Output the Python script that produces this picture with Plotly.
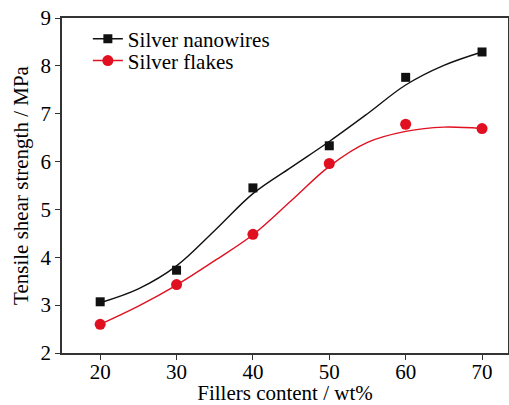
import plotly.graph_objects as go

# Measured data points
filler = [20, 30, 40, 50, 60, 70]
nanowires = [3.07, 3.73, 5.45, 6.33, 7.76, 8.29]
flakes = [2.60, 3.43, 4.48, 5.96, 6.78, 6.69]

# Smoothed fit curves
fit_x = [20, 25, 30, 35, 40, 45, 50, 55, 60, 65, 70]
nanowires_fit = [3.05, 3.34, 3.82, 4.56, 5.33, 5.88, 6.42, 7.00, 7.60, 8.01, 8.29]
flakes_fit = [2.60, 2.98, 3.42, 3.93, 4.47, 5.18, 5.90, 6.40, 6.63, 6.72, 6.69]

x_ticks = [20, 30, 40, 50, 60, 70]
y_ticks = [2, 3, 4, 5, 6, 7, 8, 9]

BLACK = "#111111"
RED = "#e01020"
FONT = "Liberation Serif"

fig = go.Figure()

# fit curves
fig.add_trace(go.Scatter(x=fit_x, y=nanowires_fit, mode="lines", line=dict(color=BLACK, width=1.4, shape="spline", smoothing=1.0), showlegend=False, hoverinfo="skip"))
fig.add_trace(go.Scatter(x=fit_x, y=flakes_fit, mode="lines", line=dict(color=RED, width=1.4, shape="spline", smoothing=1.0), showlegend=False, hoverinfo="skip"))

# data markers
fig.add_trace(go.Scatter(x=filler, y=nanowires, mode="markers", marker=dict(symbol="square", size=9, color=BLACK), showlegend=False))
fig.add_trace(go.Scatter(x=filler, y=flakes, mode="markers", marker=dict(symbol="circle", size=11, color=RED), showlegend=False))

# legend entries
fig.add_trace(go.Scatter(x=[None], y=[None], mode="lines+markers", name="Silver nanowires", legend="legend",
                         line=dict(color=BLACK, width=1.4), marker=dict(symbol="square", size=9, color=BLACK)))
fig.add_trace(go.Scatter(x=[None], y=[None], mode="lines+markers", name="Silver flakes", legend="legend2",
                         line=dict(color=RED, width=1.4), marker=dict(symbol="circle", size=11, color=RED)))

axis_common = dict(
    showgrid=False, zeroline=False, showline=True, linecolor="#333333", linewidth=1.5,
    mirror=True, ticks="outside", ticklen=5, tickwidth=1.2, tickcolor="#333333",
    tickfont=dict(family=FONT, size=21, color="black"),
    automargin=False,
)

legend_common = dict(x=0.058, xanchor="left", yanchor="middle", bgcolor="rgba(0,0,0,0)",
                     font=dict(family=FONT, size=21, color="black"), itemwidth=30)

fig.update_layout(
    template="none",
    width=509, height=405,
    margin=dict(l=62, r=1, t=18, b=52, pad=0),
    plot_bgcolor="white", paper_bgcolor="white",
    font=dict(family=FONT, color="black"),
    xaxis=dict(range=[15, 73.4], tickvals=x_ticks, ticklabelstandoff=-6,
               title=dict(text="Fillers content / wt%", font=dict(size=21), standoff=0), **axis_common),
    yaxis=dict(range=[2, 9], tickvals=y_ticks,
               title=dict(text="Tensile shear strength / MPa", font=dict(size=21), standoff=6), **axis_common),
    legend=dict(y=0.937, **legend_common),
    legend2=dict(y=0.872, **legend_common),
)

fig.write_html("out.html", config={"displayModeBar": False},
               post_script="document.body.style.margin='0';document.body.style.overflow='hidden';")
